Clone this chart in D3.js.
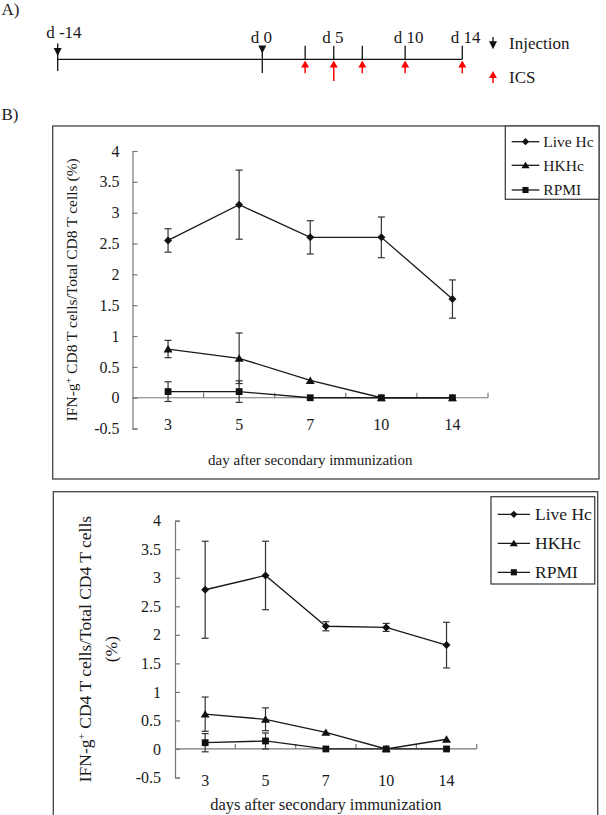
<!DOCTYPE html>
<html>
<head>
<meta charset="utf-8">
<script src="https://cdn.jsdelivr.net/npm/d3@7"></script>
<style>
    body { margin: 0; background: #fff; }
    svg text { font-family: "Liberation Serif", "Times New Roman", serif; fill: #1a1a1a; }
</style>
</head>
<body>
<div id="chart"></div>
<script>
// ---- panel A: immunization timeline ----
const injectionDays = [-14, 0];
const icsDays = [3, 5, 7, 10, 14];
const timelineTicks = [3, 5, 7, 10, 14];
const labelDays = [-14, 0, 5, 10, 14];
const labelTexts = ["d -14", "d 0", "d 5", "d 10", "d 14"];

// ---- panel B: ICS results ----
const days = ["3", "5", "7", "10", "14"];
const seriesNames = ["Live Hc", "HKHc", "RPMI"];
const yTicks = [-0.5, 0, 0.5, 1, 1.5, 2, 2.5, 3, 3.5, 4];

// CD8 (upper chart)
const cd8Live = [2.55, 3.13, 2.60, 2.60, 1.60];
const cd8LiveErr = [0.19, 0.56, 0.27, 0.33, 0.31];
const cd8Hk = [0.79, 0.64, 0.28, 0.0, 0.0];
const cd8HkErr = [0.14, 0.41, 0.02, 0, 0];
const cd8Rpmi = [0.10, 0.10, 0.0, 0.0, 0.0];
const cd8RpmiErr = [0.16, 0.175, 0, 0, 0];

// CD4 (lower chart)
const cd4Live = [2.79, 3.04, 2.15, 2.13, 1.82];
const cd4LiveErr = [0.85, 0.60, 0.08, 0.07, 0.40];
const cd4Hk = [0.61, 0.52, 0.29, 0.0, 0.17];
const cd4HkErr = [0.30, 0.20, 0.02, 0, 0.02];
const cd4Rpmi = [0.11, 0.14, 0.0, 0.0, 0.0];
const cd4RpmiErr = [0.16, 0.14, 0, 0, 0];

const svg = d3.select("#chart").append("svg")
    .attr("width", 606)
    .attr("height", 815);

// section letters
svg.append("text").attr("x", 1.5).attr("y", 15)
    .attr("font-size", 17).text("A)");
svg.append("text").attr("x", 1.5).attr("y", 120)
    .attr("font-size", 17).text("B)");

// ---------------- timeline ----------------
let tx = d3.scaleLinear().domain([-14, 0, 14]).range([57.7, 262.3, 462.3]);
let tlY = 59.3;

svg.append("line")
    .attr("x1", tx(-14)).attr("x2", tx(14))
    .attr("y1", tlY).attr("y2", tlY)
    .attr("stroke", "#111").attr("stroke-width", 1.3);

svg.selectAll(".tl-tick")
    .data(timelineTicks)
    .enter().append("line")
    .attr("class", "tl-tick")
    .attr("x1", d => tx(d)).attr("x2", d => tx(d))
    .attr("y1", 45.7).attr("y2", tlY)
    .attr("stroke", "#111").attr("stroke-width", 1.3);

// injection marks: stem through the line + black arrow head
svg.selectAll(".inj-stem")
    .data(injectionDays)
    .enter().append("line")
    .attr("class", "inj-stem")
    .attr("x1", d => tx(d)).attr("x2", d => tx(d))
    .attr("y1", (d, i) => i === 0 ? 43.5 : 46)
    .attr("y2", (d, i) => i === 0 ? 71 : 73)
    .attr("stroke", "#111").attr("stroke-width", 1.3);

function downHead(x, tip) {
    return `M${x - 4},${tip - 8}L${x + 4},${tip - 8}L${x},${tip}Z`;
}
function upHead(x, tip) {
    return `M${x - 4},${tip + 7}L${x + 4},${tip + 7}L${x},${tip}Z`;
}

svg.selectAll(".inj-head")
    .data(injectionDays)
    .enter().append("path")
    .attr("class", "inj-head")
    .attr("d", (d, i) => downHead(tx(d), i === 0 ? 56 : 53.5))
    .attr("fill", "#111");

// ICS red arrows
svg.selectAll(".ics-stem")
    .data(icsDays)
    .enter().append("line")
    .attr("class", "ics-stem")
    .attr("x1", d => tx(d)).attr("x2", d => tx(d))
    .attr("y1", 64).attr("y2", d => d === 5 ? 81 : 73.3)
    .attr("stroke", "#f00").attr("stroke-width", 1.5);

svg.selectAll(".ics-head")
    .data(icsDays)
    .enter().append("path")
    .attr("class", "ics-head")
    .attr("d", d => upHead(tx(d), 60.5))
    .attr("fill", "#f00");

svg.selectAll(".tl-label")
    .data(labelDays)
    .enter().append("text")
    .attr("class", "tl-label")
    .attr("x", d => tx(d) - 11.5)
    .attr("y", (d, i) => i === 0 ? 38 : 43)
    .attr("font-size", 17)
    .text((d, i) => labelTexts[i]);

// timeline legend
svg.append("line").attr("x1", 493).attr("x2", 493).attr("y1", 37).attr("y2", 44)
    .attr("stroke", "#111").attr("stroke-width", 1.3);
svg.append("path").attr("d", downHead(493, 49.3)).attr("fill", "#111");
svg.append("text").attr("x", 509).attr("y", 48.5).attr("font-size", 17).text("Injection");

svg.append("line").attr("x1", 493).attr("x2", 493).attr("y1", 75).attr("y2", 83)
    .attr("stroke", "#f00").attr("stroke-width", 1.5);
svg.append("path").attr("d", upHead(493, 71)).attr("fill", "#f00");
svg.append("text").attr("x", 509).attr("y", 82.7).attr("font-size", 17).text("ICS");

// ---------------- line charts ----------------
let markers = [
    s => `M0,${-s}L${s},0L0,${s}L${-s},0Z`,
    s => `M0,${-s}L${s + 0.5},${s * 0.85}L${-s - 0.5},${s * 0.85}Z`,
    s => `M${-s * 0.85},${-s * 0.85}H${s * 0.85}V${s * 0.85}H${-s * 0.85}Z`
];

function drawPanel(p) {
    let g = svg.append("g");

    // frame
    g.append("rect")
        .attr("x", p.frame[0]).attr("y", p.frame[1])
        .attr("width", p.frame[2] - p.frame[0]).attr("height", p.frame[3] - p.frame[1])
        .attr("fill", "none").attr("stroke", "#444").attr("stroke-width", 1.3);

    let x = d3.scaleBand().domain(days).range([p.left, p.right]);
    let y = d3.scaleLinear().domain([-0.5, 4]).range([p.bottom, p.top]);
    let cx = d => x(d) + x.bandwidth() / 2;

    // y axis, ticks pointing inward
    let yAxis = g.append("g")
        .attr("transform", `translate(${p.left},0)`)
        .call(d3.axisLeft(y).tickValues(yTicks)
            .tickSize(-5).tickSizeOuter(-5).tickPadding(p.yPad)
            .tickFormat(d => String(d)));
    yAxis.attr("font-family", null).attr("font-size", 16);
    yAxis.selectAll("path, line").attr("stroke", "#777").attr("stroke-width", 1.2);
    yAxis.selectAll("text").attr("fill", "#1a1a1a");

    // x axis along zero, ticks at category boundaries
    g.append("line")
        .attr("x1", p.left).attr("x2", p.right)
        .attr("y1", y(0)).attr("y2", y(0))
        .attr("stroke", "#777").attr("stroke-width", 1.2);
    g.selectAll(".xb")
        .data(days)
        .enter().append("line")
        .attr("x1", d => x(d) + x.bandwidth()).attr("x2", d => x(d) + x.bandwidth())
        .attr("y1", y(0)).attr("y2", y(0) - 5)
        .attr("stroke", "#777").attr("stroke-width", 1.2);

    let xAxis = g.append("g")
        .attr("transform", `translate(0,${y(0)})`)
        .call(d3.axisBottom(x).tickSize(0).tickPadding(p.xPad));
    xAxis.select(".domain").remove();
    xAxis.attr("font-family", null).attr("font-size", 16);
    xAxis.selectAll("text").attr("fill", "#1a1a1a");

    // axis titles
    g.append("text")
        .attr("x", (p.left + p.right) / 2).attr("y", p.xTitleY)
        .attr("text-anchor", "middle").attr("font-size", p.xTitleSize)
        .text(p.xTitle);

    p.yTitle.forEach((line, i) => {
        let t = g.append("text")
            .attr("transform", `translate(${p.yTitleX[i]},${(p.top + p.bottom) / 2}) rotate(-90)`)
            .attr("text-anchor", "middle").attr("font-size", p.yTitleSize);
        line.forEach(part => {
            let ts = t.append("tspan").text(part.t);
            if (part.sup) ts.attr("baseline-shift", "super").attr("font-size", p.yTitleSize * 0.65);
        });
    });

    // series
    p.series.forEach((s, si) => {
        let pts = days.map((d, i) => ({day: d, v: s.values[i], e: s.errors[i]}));

        g.append("path")
            .datum(pts)
            .attr("fill", "none").attr("stroke", "#1a1a1a").attr("stroke-width", 1.3)
            .attr("d", d3.line().x(d => cx(d.day)).y(d => y(d.v)));

        let eb = g.selectAll(".eb" + si)
            .data(pts.filter(d => d.e > 0.03))
            .enter().append("g")
            .attr("stroke", "#333").attr("stroke-width", 1.2);
        eb.append("line")
            .attr("x1", d => cx(d.day)).attr("x2", d => cx(d.day))
            .attr("y1", d => y(d.v - d.e)).attr("y2", d => y(d.v + d.e));
        eb.append("line")
            .attr("x1", d => cx(d.day) - 3.5).attr("x2", d => cx(d.day) + 3.5)
            .attr("y1", d => y(d.v + d.e)).attr("y2", d => y(d.v + d.e));
        eb.append("line")
            .attr("x1", d => cx(d.day) - 3.5).attr("x2", d => cx(d.day) + 3.5)
            .attr("y1", d => y(d.v - d.e)).attr("y2", d => y(d.v - d.e));

        g.selectAll(".mk" + si)
            .data(pts)
            .enter().append("path")
            .attr("transform", d => `translate(${cx(d.day)},${y(d.v)})`)
            .attr("d", markers[si](4))
            .attr("fill", "#111");
    });

    // legend
    let L = p.legend;
    g.append("rect")
        .attr("x", L.x0).attr("y", L.y0)
        .attr("width", L.x1 - L.x0).attr("height", L.y1 - L.y0)
        .attr("fill", "#fff").attr("stroke", "#444").attr("stroke-width", 1.3);
    let rows = g.selectAll(".lg")
        .data(seriesNames)
        .enter().append("g")
        .attr("transform", (d, i) => `translate(0,${L.rows[i]})`);
    rows.append("line")
        .attr("x1", L.lineX[0]).attr("x2", L.lineX[1])
        .attr("stroke", "#1a1a1a").attr("stroke-width", 1.3);
    rows.append("path")
        .attr("transform", `translate(${(L.lineX[0] + L.lineX[1]) / 2},0)`)
        .attr("d", (d, i) => markers[i](3.6))
        .attr("fill", "#111");
    rows.append("text")
        .attr("x", L.textX).attr("dy", "0.35em")
        .attr("font-size", L.size)
        .text(d => d);
}

drawPanel({
    frame: [52.7, 126, 599, 479],
    left: 132.5, right: 488, top: 151, bottom: 428.6,
    yPad: 13, xPad: 21,
    xTitle: "day after secondary immunization", xTitleY: 465, xTitleSize: 15,
    yTitle: [[{t: "IFN-g"}, {t: "+", sup: true}, {t: " CD8 T cells/Total CD8 T cells (%)"}]],
    yTitleX: [76.5], yTitleSize: 15.5,
    series: [
        {values: cd8Live, errors: cd8LiveErr},
        {values: cd8Hk, errors: cd8HkErr},
        {values: cd8Rpmi, errors: cd8RpmiErr}
    ],
    legend: {x0: 505.3, x1: 599, y0: 126, y1: 199.3, rows: [141.7, 165.3, 190],
        lineX: [511.7, 539.3], textX: 543.3, size: 15.5}
});

drawPanel({
    frame: [53.3, 491.7, 597.7, 840],
    left: 175, right: 476.7, top: 520.7, bottom: 777.5,
    yPad: 14, xPad: 26,
    xTitle: "days after secondary immunization", xTitleY: 810, xTitleSize: 16.5,
    yTitle: [[{t: "IFN-g"}, {t: "+", sup: true}, {t: " CD4 T cells/Total CD4 T cells"}], [{t: "(%)"}]],
    yTitleX: [91, 117], yTitleSize: 17.5,
    series: [
        {values: cd4Live, errors: cd4LiveErr},
        {values: cd4Hk, errors: cd4HkErr},
        {values: cd4Rpmi, errors: cd4RpmiErr}
    ],
    legend: {x0: 491, x1: 594.7, y0: 496.7, y1: 584, rows: [514.3, 543.3, 572.3],
        lineX: [497.7, 530], textX: 535, size: 17.5}
});
</script>
</body>
</html>
